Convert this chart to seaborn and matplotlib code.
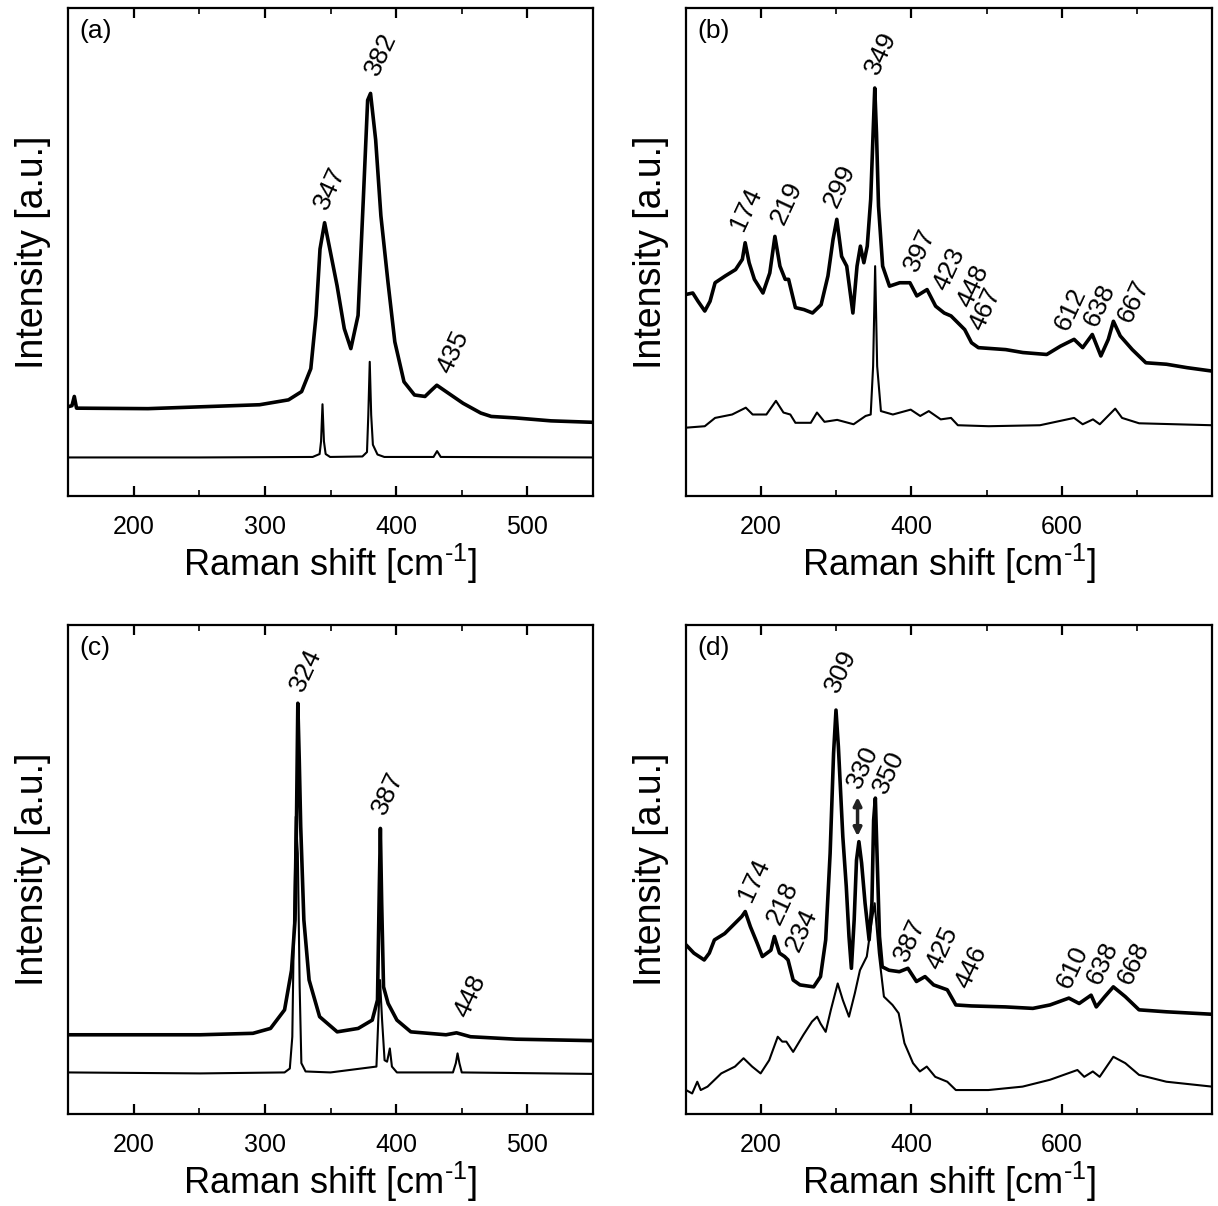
import matplotlib
matplotlib.use("Agg")
import matplotlib.pyplot as plt
import seaborn as sns
from matplotlib.ticker import MultipleLocator, FixedLocator

# ---------------- data (Raman shift in cm^-1, intensity in a.u.) ----------------
# panel (a)
a_x_top = [150, 153, 154.8, 156.5, 211, 296, 318, 328, 335, 339, 342, 345.5, 350, 355, 360.5,
           365.5, 371, 375, 378.3, 380.5, 384.4, 388.4, 393.8, 399, 406, 414, 422, 427, 431,
           438, 451, 464.5, 472.5, 491, 518, 550]
a_y_top = [18.3, 18.5, 20.4, 18.0, 17.9, 18.7, 19.7, 21.4, 26.1, 37.0, 50.6, 56.0, 49.9, 43.1,
           34.3, 30.2, 37.0, 60.8, 81.1, 82.5, 73.0, 57.4, 43.8, 31.6, 23.4, 20.7, 20.4, 21.7,
           22.7, 21.4, 19.0, 17.0, 16.3, 16.0, 15.4, 15.1]
a_x_bot = [150, 250, 336.4, 341.7, 342.8, 343.9, 345, 346.3, 349.7, 374.3, 377.8, 378.8, 379.9,
           381, 382.3, 385.8, 391, 428.5, 431.2, 434, 550]
a_y_bot = [7.9, 7.9, 8.0, 8.6, 11.2, 18.8, 11.2, 8.6, 8.0, 8.1, 9.0, 16.6, 27.5, 16.6, 10.5,
           8.5, 8.0, 8.0, 9.2, 8.0, 7.9]
a_labels = ["347", "382", "435"]
a_lab_x = [349.7, 388.4, 443.2]
a_lab_y = [63.1, 90.6, 29.5]

# panel (b)
b_x_top = [100, 109, 116, 125, 132, 138.7, 152.3, 166, 175, 178.7, 184, 191, 202.4, 211.5, 218.3,
           225, 232, 236.5, 245.6, 257, 268.4, 279.8, 288.9, 295.7, 300.7, 307.1, 313.9, 322.1,
           327.6, 332.1, 336.7, 341.2, 345.8, 349, 351.2, 353.5, 356.2, 361.7, 370.8, 384.4,
           398, 407.2, 420.8, 432.2, 443.6, 452.7, 461.8, 470.9, 480, 489.1, 525.5, 548.3,
           580.1, 598.3, 616.5, 627.9, 640.7, 652.1, 662, 668.8, 677.9, 693.9, 712, 739.4,
           766.7, 800]
b_y_top = [41.3, 41.6, 39.9, 37.9, 39.9, 43.7, 45.1, 46.4, 48.5, 51.9, 47.8, 44.4, 41.6, 45.7,
           53.2, 47.1, 44.4, 44.4, 38.6, 38.2, 37.5, 39.2, 45.1, 52.6, 56.7, 49.1, 47.1, 37.5,
           47.1, 51.2, 47.8, 51.2, 60.8, 74.4, 83.6, 74.4, 59.4, 47.1, 43.0, 43.7, 43.7, 41.0,
           42.3, 38.9, 37.5, 36.9, 35.5, 34.1, 31.4, 30.4, 30.0, 29.4, 29.0, 30.7, 32.1, 30.4,
           33.1, 28.7, 32.1, 35.8, 32.8, 30.0, 27.3, 27.0, 26.3, 25.6]
b_x_bot = [100, 125, 138.7, 161.4, 179.6, 188.7, 207, 219.7, 229.7, 238.8, 245.6, 266.1, 274.3,
           284.3, 301.2, 323, 339, 345.8, 349, 351.7, 354.4, 359.4, 375.3, 399, 411.7, 423.1,
           439, 452.7, 461.8, 502.8, 571, 598.3, 616.5, 627.9, 641.6, 650.7, 671.2, 680.3,
           703, 800]
b_y_bot = [14.0, 14.3, 16.0, 16.7, 18.1, 16.7, 16.7, 19.5, 17.1, 16.7, 15.0, 15.0, 17.1, 15.2,
           15.6, 14.7, 16.4, 16.7, 26.6, 47.1, 26.6, 17.4, 16.7, 17.7, 16.4, 17.4, 15.7, 16.0,
           14.5, 14.3, 14.5, 15.4, 16.0, 14.7, 15.7, 14.7, 17.9, 16.0, 14.9, 14.5]
b_labels = ["174", "219", "299", "349", "397", "423", "448", "467", "612", "638", "667"]
b_lab_x = [179.6, 234.3, 304.8, 359.4, 411.7, 450.4, 482.3, 498.2, 612.0, 650.7, 696.2]
b_lab_y = [58.7, 60.1, 63.5, 90.8, 50.5, 46.4, 43.0, 38.2, 38.2, 39.2, 39.9]

# panel (c)
c_x_top = [150, 197.3, 250.8, 290.9, 304.3, 315, 320.3, 323, 324.1, 325.1, 326.2, 327.3, 329.7,
           333.7, 341.7, 355.1, 371.1, 381.8, 385.8, 387.2, 388, 389, 390.4, 393.9, 400.6,
           411.2, 438, 446, 456.7, 491.4, 550]
c_y_top = [16.2, 16.2, 16.2, 16.5, 17.5, 21.3, 29.4, 39.7, 60.1, 84.0, 72.4, 58.8, 39.7, 27.4,
           19.9, 16.8, 17.5, 19.2, 23.3, 46.5, 58.4, 43.1, 26.0, 22.6, 19.2, 16.8, 16.2, 16.6,
           15.8, 15.3, 15.0]
c_x_bot = [150, 250.8, 315, 319, 320.9, 322.2, 323.5, 325.1, 326.5, 327.8, 331, 350, 385,
           386.4, 387.7, 389.3, 391.2, 393.1, 395.2, 396.8, 400.6, 443.3, 445.5, 446.8, 448.2,
           450, 550]
c_y_bot = [8.5, 8.3, 8.5, 9.3, 15.8, 39.7, 60.8, 53.3, 26.0, 10.4, 8.7, 8.5, 9.7, 19.2, 27.4,
           19.2, 11.0, 10.7, 13.4, 9.7, 8.5, 8.5, 10.4, 12.4, 10.4, 8.5, 8.2]
c_labels = ["324", "387", "448"]
c_lab_x = [331.0, 393.9, 456.7]
c_lab_y = [90.8, 65.6, 24.0]

# panel (d)
d_x_top = [100, 110.5, 124.2, 131, 137.8, 151.5, 165.2, 174.3, 178.8, 185.7, 194.8, 201.6, 213,
           217.6, 224.4, 231.2, 235.8, 242.6, 251.7, 269.9, 279, 285.9, 291.8, 296.4, 299.6,
           302.8, 308.7, 313.3, 316.9, 320.1, 323.8, 326.9, 330.1, 333.7, 338.3, 343.7, 347.4,
           349.7, 352, 354.2, 357.5, 361.1, 370.2, 383.9, 395.3, 406.7, 418.1, 429.5, 447.7,
           459.1, 479.6, 525.2, 561.6, 584.4, 609.5, 623.2, 639.1, 646, 657.3, 668.7, 684.6,
           702.9, 739.3, 800]
d_y_top = [34.6, 32.9, 31.5, 32.9, 35.6, 36.9, 39.0, 40.4, 41.4, 38.3, 34.9, 32.2, 33.5, 36.3,
           32.9, 32.2, 31.5, 27.4, 26.4, 26.0, 28.1, 35.6, 53.3, 73.8, 82.6, 75.1, 56.7, 46.5,
           36.3, 29.8, 39.7, 51.9, 55.7, 51.3, 43.1, 35.6, 43.1, 60.1, 64.6, 53.3, 36.3, 30.1,
           29.4, 29.1, 29.8, 27.1, 28.1, 26.4, 25.4, 22.3, 22.1, 21.9, 21.6, 22.3, 23.7, 22.6,
           24.3, 21.9, 24.0, 26.0, 24.0, 21.3, 20.9, 20.4]
d_x_bot = [100, 108.2, 115, 119.6, 128.7, 146.9, 165.2, 176.6, 188, 199.3, 210.7, 222.1, 228.1,
           233.5, 242.6, 256.3, 267.7, 274.5, 279, 285.9, 292.8, 301.9, 308.7, 316.9, 324.7,
           331.5, 340.6, 347.4, 351.1, 356.6, 363.4, 374.8, 383, 390.7, 402.1, 411.2, 420.4,
           431.7, 447.7, 459.1, 502.4, 547.9, 584.4, 620.9, 630, 641.4, 650.5, 668.7, 684.6,
           702.9, 739.3, 800]
d_y_bot = [4.9, 4.2, 6.6, 4.9, 5.6, 8.3, 9.7, 11.4, 9.7, 8.3, 11.0, 15.8, 14.8, 14.8, 12.7,
           16.2, 18.9, 19.9, 18.5, 16.8, 21.3, 26.7, 23.3, 19.9, 24.7, 29.4, 32.2, 39.7, 43.1,
           32.9, 24.0, 22.3, 20.6, 14.5, 10.4, 8.7, 9.7, 7.6, 6.6, 4.9, 4.9, 5.6, 7.0, 9.0, 7.6,
           8.7, 7.6, 11.7, 10.4, 8.0, 6.6, 5.6]
d_labels = ["174", "218", "234", "309", "330", "350", "387", "425", "446", "610", "638", "668"]
d_lab_x = [190.2, 229.0, 254.0, 306.4, 336.0, 370.2, 397.6, 440.9, 479.6, 614.0, 655.0, 696.0]
d_lab_y = [47.9, 43.1, 37.6, 90.5, 71.0, 70.0, 35.6, 33.9, 30.1, 30.1, 30.8, 30.8]
d_arrow_x = 328.3
d_arrow_y = [64.8, 56.8]

# ---------------- style ----------------
sns.set_theme(style="ticks")
plt.rcParams["font.family"] = ["Liberation Sans", "DejaVu Sans"]
plt.rcParams["mathtext.fontset"] = "custom"
plt.rcParams["mathtext.rm"] = "Liberation Sans"
plt.rcParams["mathtext.it"] = "Liberation Sans"
plt.rcParams["mathtext.bf"] = "Liberation Sans"
plt.rcParams["axes.linewidth"] = 1.6
plt.rcParams["xtick.direction"] = "in"
plt.rcParams["ytick.direction"] = "in"
plt.rcParams["text.color"] = "black"
plt.rcParams["axes.labelcolor"] = "black"

fig = plt.figure(figsize=(12.18, 12.06), dpi=100)
rects = {
    "a": [68 / 1218, 1 - 496 / 1206, 525 / 1218, 488 / 1206],
    "b": [686 / 1218, 1 - 496 / 1206, 526 / 1218, 488 / 1206],
    "c": [68 / 1218, 1 - 1114 / 1206, 525 / 1218, 489 / 1206],
    "d": [686 / 1218, 1 - 1114 / 1206, 526 / 1218, 489 / 1206],
}

panels = {
    "a": (a_x_top, a_y_top, a_x_bot, a_y_bot, a_labels, a_lab_x, a_lab_y, (150, 550), [200, 300, 400, 500], 50),
    "b": (b_x_top, b_y_top, b_x_bot, b_y_bot, b_labels, b_lab_x, b_lab_y, (100, 800), [200, 400, 600], 100),
    "c": (c_x_top, c_y_top, c_x_bot, c_y_bot, c_labels, c_lab_x, c_lab_y, (150, 550), [200, 300, 400, 500], 50),
    "d": (d_x_top, d_y_top, d_x_bot, d_y_bot, d_labels, d_lab_x, d_lab_y, (100, 800), [200, 400, 600], 100),
}

for key, (xt, yt, xb, yb, labs, lx, ly, xlim, major, minor) in panels.items():
    ax = fig.add_axes(rects[key])
    sns.lineplot(x=xt, y=yt, ax=ax, color="black", lw=2.6, sort=False, estimator=None)
    sns.lineplot(x=xb, y=yb, ax=ax, color="black", lw=1.5, sort=False, estimator=None)
    ax.set_xlim(*xlim)
    ax.set_ylim(0, 100)
    ax.xaxis.set_major_locator(FixedLocator(major))
    ax.xaxis.set_minor_locator(MultipleLocator(minor))
    ax.tick_params(axis="x", which="major", top=True, bottom=True, length=7, width=1.6,
                   labelsize=18, pad=14, colors="black")
    ax.tick_params(axis="x", which="minor", top=True, bottom=True, length=4, width=1.4)
    ax.set_yticks([])
    for s in ax.spines.values():
        s.set_color("black")
    ax.set_xlabel(r"Raman shift [cm$^{\text{-1}}$]", fontsize=26, labelpad=2, color="black")
    ax.set_ylabel("Intensity [a.u.]", fontsize=27, labelpad=12, color="black")
    for t, x, y in zip(labs, lx, ly):
        ax.text(x, y, t, rotation=65, rotation_mode="anchor", ha="center", va="center",
                fontsize=19, color="black")
    ax.text(0.022, 0.978, f"({key})", transform=ax.transAxes, ha="left", va="top",
            fontsize=19, color="black")
    if key == "d":
        ax.annotate("", xy=(d_arrow_x, d_arrow_y[1]), xytext=(d_arrow_x, d_arrow_y[0]),
                    arrowprops=dict(arrowstyle="<|-|>", color="#222222", lw=2.5,
                                    mutation_scale=12, shrinkA=0, shrinkB=0))

fig.savefig("out.png", dpi=100)
